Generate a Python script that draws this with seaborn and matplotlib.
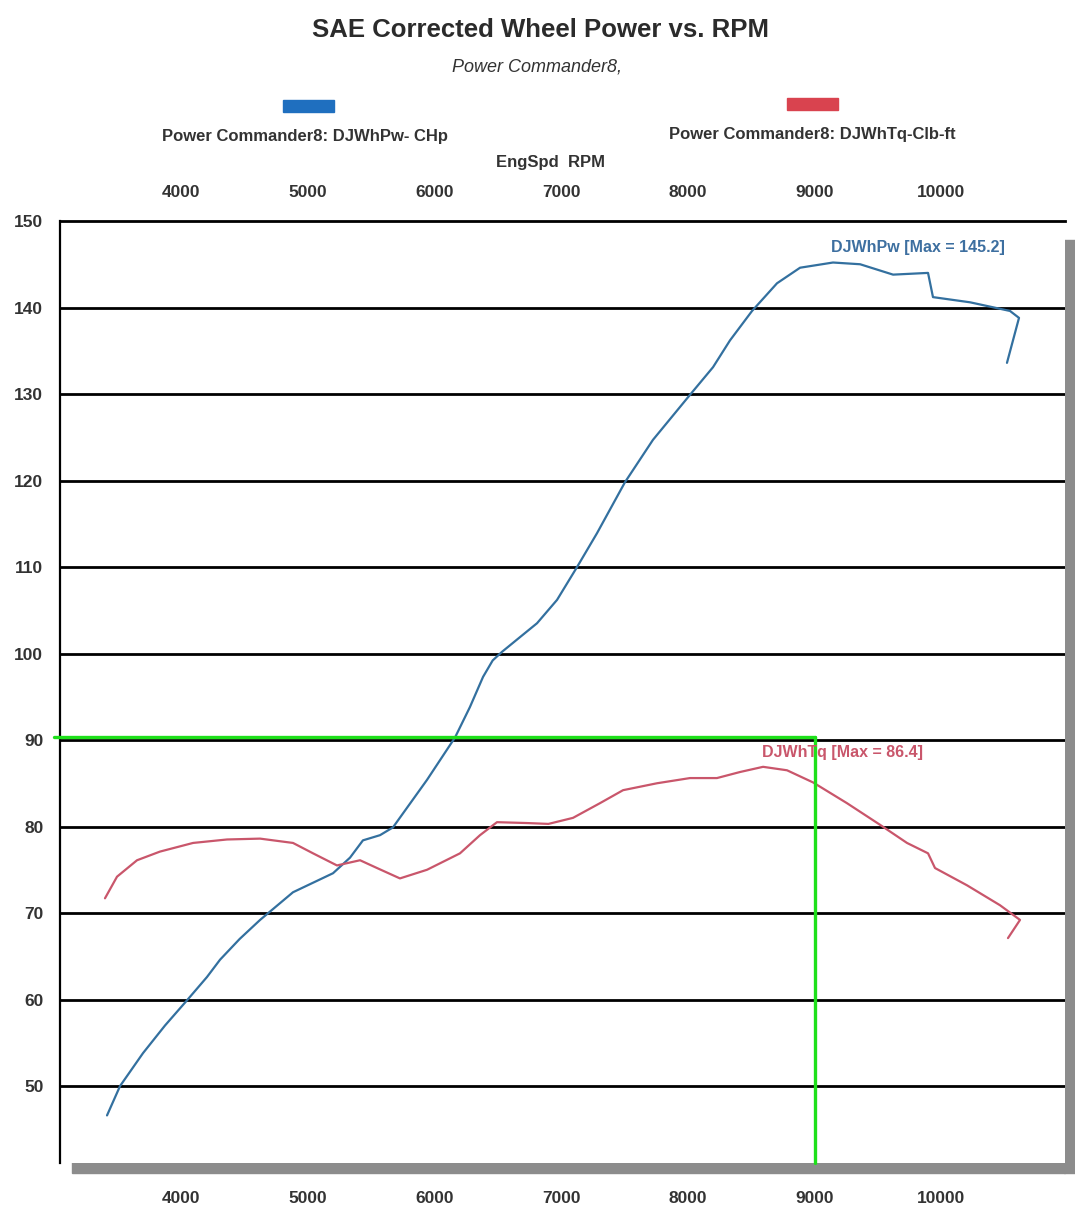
import pandas as pd
import seaborn as sns
import matplotlib.pyplot as plt
from matplotlib.patches import Rectangle

# values
power_rpm = [3416, 3519, 3700, 3874, 4047, 4205, 4308, 4463, 4624, 4884, 5042, 5200, 5334,
             5436, 5571, 5673, 5942, 6163, 6280, 6384, 6460, 6534, 6676, 6810, 6968, 7126,
             7283, 7504, 7725, 8017, 8199, 8333, 8507, 8704, 8886, 9146, 9360, 9620, 9896,
             9935, 10228, 10543, 10614, 10519]
power_hp = [46.6, 50.0, 53.8, 57.0, 59.9, 62.6, 64.6, 67.0, 69.2, 72.4, 73.5, 74.6, 76.4,
            78.4, 79.0, 79.9, 85.4, 90.3, 93.8, 97.3, 99.2, 100.2, 101.9, 103.5, 106.2, 110.0,
            113.9, 119.8, 124.7, 129.9, 133.1, 136.2, 139.6, 142.8, 144.6, 145.2, 145.0, 143.8, 144.0,
            141.2, 140.6, 139.6, 138.8, 133.6]

torque_rpm = [3400, 3495, 3653, 3834, 4095, 4363, 4624, 4884, 5042, 5231, 5413, 5547,
              5728, 5942, 6202, 6360, 6494, 6731, 6900, 7094, 7307, 7489, 7757, 8017, 8230,
              8412, 8594, 8783, 8988, 9256, 9517, 9730, 9896, 9951, 10204, 10464, 10622, 10527]
torque_lbft = [71.7, 74.2, 76.1, 77.1, 78.1, 78.5, 78.6, 78.1, 76.9, 75.5, 76.1, 75.2,
               74.0, 75.0, 76.9, 79.0, 80.5, 80.4, 80.3, 81.0, 82.7, 84.2, 85.0, 85.6, 85.6,
               86.3, 86.9, 86.5, 85.1, 82.7, 80.2, 78.1, 76.9, 75.2, 73.2, 70.9, 69.2, 67.1]

rpm_ticks = [4000, 5000, 6000, 7000, 8000, 9000, 10000]
y_ticks = [50, 60, 70, 80, 90, 100, 110, 120, 130, 140, 150]
marker_rpm = 9000
marker_level = 90.4

title = "SAE Corrected Wheel Power vs. RPM"
subtitle = "Power Commander8,"
power_label = "Power Commander8: DJWhPw- CHp"
torque_label = "Power Commander8: DJWhTq-Clb-ft"

sns.set_style("white")
plt.rcParams['font.family'] = ['Liberation Sans', 'DejaVu Sans']

W, H = 1075, 1209
fig = plt.figure(figsize=(W / 100, H / 100), dpi=100)
ax = fig.add_axes([60 / W, 1 - 1163 / H, 1005 / W, 942 / H])

power = pd.DataFrame({'rpm': power_rpm, 'val': power_hp})
torque = pd.DataFrame({'rpm': torque_rpm, 'val': torque_lbft})
sns.lineplot(data=power, x='rpm', y='val', sort=False, estimator=None,
             color='#33709f', lw=1.6, ax=ax, zorder=4, solid_joinstyle='round')
sns.lineplot(data=torque, x='rpm', y='val', sort=False, estimator=None,
             color='#c9566b', lw=1.6, ax=ax, zorder=4, solid_joinstyle='round')

ax.set_xlim(3045, 10977)
ax.set_ylim(41.1, 150)
ax.set_xlabel('')
ax.set_ylabel('')
ax.set_yticks(y_ticks)
ax.set_xticks(rpm_ticks)
ax.set_yticklabels([str(v) for v in y_ticks], fontsize=12.5, fontweight='bold', color='#333333')
ax.set_xticklabels([str(v) for v in rpm_ticks], fontsize=12.5, fontweight='bold', color='#333333')
ax.tick_params(axis='y', length=0, pad=12)
ax.tick_params(axis='x', length=0, pad=20)
for v in y_ticks[:-1]:
    ax.axhline(v, color='black', lw=2, zorder=2)
for side in ['right', 'bottom']:
    ax.spines[side].set_visible(False)
ax.spines['left'].set_color('black')
ax.spines['left'].set_linewidth(1.6)
ax.spines['top'].set_color('black')
ax.spines['top'].set_linewidth(2)

top = ax.secondary_xaxis('top')
top.set_xticks(rpm_ticks)
top.set_xticklabels([str(v) for v in rpm_ticks], fontsize=12.5, fontweight='bold', color='#333333')
top.tick_params(length=0, pad=15)
top.spines['top'].set_visible(False)

# green marker lines
ax.plot([3000, marker_rpm], [marker_level, marker_level], color='#1ee01a', lw=2.4,
        clip_on=False, zorder=5)
ax.plot([marker_rpm, marker_rpm], [marker_level, 41.1], color='#1ee01a', lw=2.4,
        clip_on=False, zorder=5)

ax.text(9130, 146.9, "DJWhPw [Max = 145.2]", color='#3d6fa0', fontsize=11.5,
        fontweight='bold', va='center', ha='left', zorder=6)
ax.text(8586, 88.5, "DJWhTq [Max = 86.4]", color='#c9566b', fontsize=11.5,
        fontweight='bold', va='center', ha='left', zorder=6)

# shadow strips
fig.add_artist(Rectangle((72 / W, 1 - 1173 / H), 993 / W, 16 / H,
                         transform=fig.transFigure, color='#8c8c8c', zorder=0))
fig.add_artist(Rectangle((1064 / W, 1 - 1173 / H), 11 / W, 933 / H,
                         transform=fig.transFigure, color='#8c8c8c', zorder=0))

# header
fig.text(541 / W, 1 - 30 / H, title, fontsize=18.5, fontweight='bold', color='#2b2b2b',
         ha='center', va='center')
fig.text(537 / W, 1 - 67 / H, subtitle, fontsize=13, fontstyle='italic', color='#333333',
         ha='center', va='center')
fig.add_artist(Rectangle((283 / W, 1 - 112 / H), 51 / W, 12 / H,
                         transform=fig.transFigure, color='#1f6fbf'))
fig.add_artist(Rectangle((787 / W, 1 - 110 / H), 51 / W, 12 / H,
                         transform=fig.transFigure, color='#d9434f'))
fig.text(305 / W, 1 - 137 / H, power_label, fontsize=12, fontweight='bold', color='#333333',
         ha='center', va='center')
fig.text(812 / W, 1 - 134 / H, torque_label, fontsize=12, fontweight='bold', color='#333333',
         ha='center', va='center')
fig.text(551 / W, 1 - 163 / H, "EngSpd  RPM", fontsize=12, fontweight='bold', color='#333333',
         ha='center', va='center')

fig.savefig('out.png', dpi=100)
